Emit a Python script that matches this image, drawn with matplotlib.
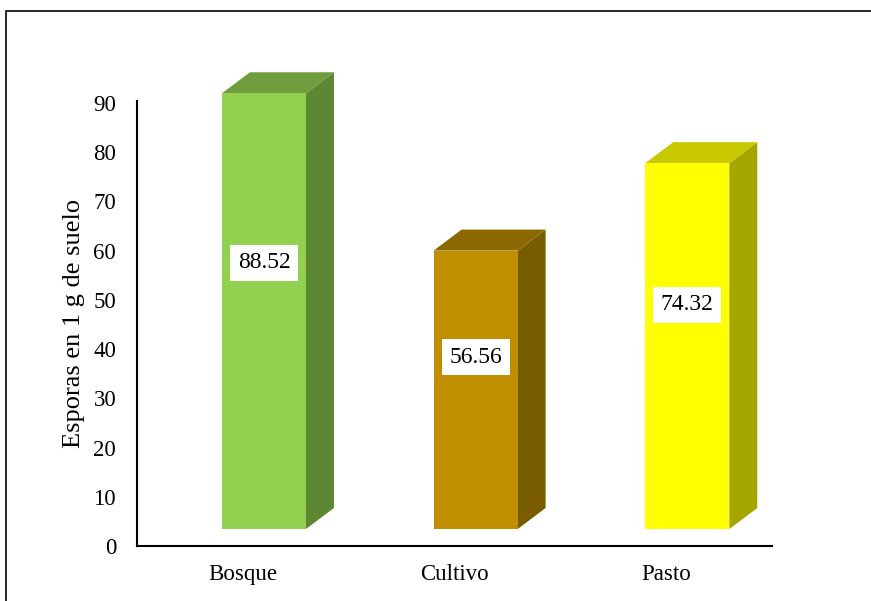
# Esporas en 1 g de suelo por uso de suelo
# Barras con efecto 3D al estilo de Excel

import numpy as np
import matplotlib.pyplot as plt
from matplotlib.patches import Polygon, Rectangle
from matplotlib.lines import Line2D

plt.rcParams['font.family'] = ['Liberation Serif', 'DejaVu Serif']

# Datos .......................................................................

categorias = ["Bosque", "Cultivo", "Pasto"]
esporas = [88.52, 56.56, 74.32]
etiquetas = ["88.52", "56.56", "74.32"]

# Colores: frente, techo, lado
col_frente = ["#92D050", "#BF8F00", "#FFFF00"]
col_techo = ["#6F9C3C", "#8C6900", "#C8C800"]
col_lado = ["#5E8733", "#7A5C00", "#A6A600"]

# Figura ......................................................................

fig = plt.figure(figsize=(8.71, 6.01), dpi=100)
ax = fig.add_axes([137 / 871, 55 / 601, 635 / 871, 445 / 601])

ax.set_xlim(-0.5, 2.5)
ax.set_ylim(0, 90.4)

# Geometria 3D (en unidades de datos)
ancho = 0.397
desp_x = 0.10    # frente desplazado a la derecha
base = 3.45      # base elevada por la perspectiva
dx = 0.132       # profundidad horizontal
dy = 4.27        # profundidad vertical

for i, v in enumerate(esporas):
    x0 = i + desp_x - ancho / 2
    x1 = x0 + ancho
    top = base + v
    frente = Rectangle((x0, base), ancho, v, facecolor=col_frente[i],
                       edgecolor="none", clip_on=False, zorder=3)
    techo = Polygon([(x0, top), (x1, top), (x1 + dx, top + dy), (x0 + dx, top + dy)],
                    closed=True, facecolor=col_techo[i], edgecolor="none",
                    clip_on=False, zorder=2)
    lado = Polygon([(x1, base), (x1 + dx, base + dy), (x1 + dx, top + dy), (x1, top)],
                   closed=True, facecolor=col_lado[i], edgecolor="none",
                   clip_on=False, zorder=2)
    ax.add_patch(lado)
    ax.add_patch(techo)
    ax.add_patch(frente)
    ax.text(i + desp_x, base + 1.0 + 0.6 * v, etiquetas[i], ha="center", va="center",
            fontsize=17, color="black", zorder=4,
            bbox=dict(facecolor="white", edgecolor="none", pad=5.5))

# Ejes ........................................................................

ax.set_xticks(range(len(categorias)))
ax.set_xticklabels(categorias, fontsize=16.5)
ax.set_yticks(np.arange(0, 91, 10))
ax.tick_params(axis="both", length=0)
ax.tick_params(axis="y", labelsize=16.5, pad=15)
ax.tick_params(axis="x", pad=13)
ax.set_ylabel("Esporas en 1 g de suelo", fontsize=19, labelpad=6)

for s in ["top", "right"]:
    ax.spines[s].set_visible(False)
for s in ["left", "bottom"]:
    ax.spines[s].set_linewidth(1.5)

# Marco de la figura (solo visible arriba e izquierda)
fig.add_artist(Line2D([6 / 871, 6 / 871, 1], [0, 1 - 11 / 601, 1 - 11 / 601],
                      transform=fig.transFigure, color="black", lw=1.2))

plt.savefig("out.png", dpi=100)
